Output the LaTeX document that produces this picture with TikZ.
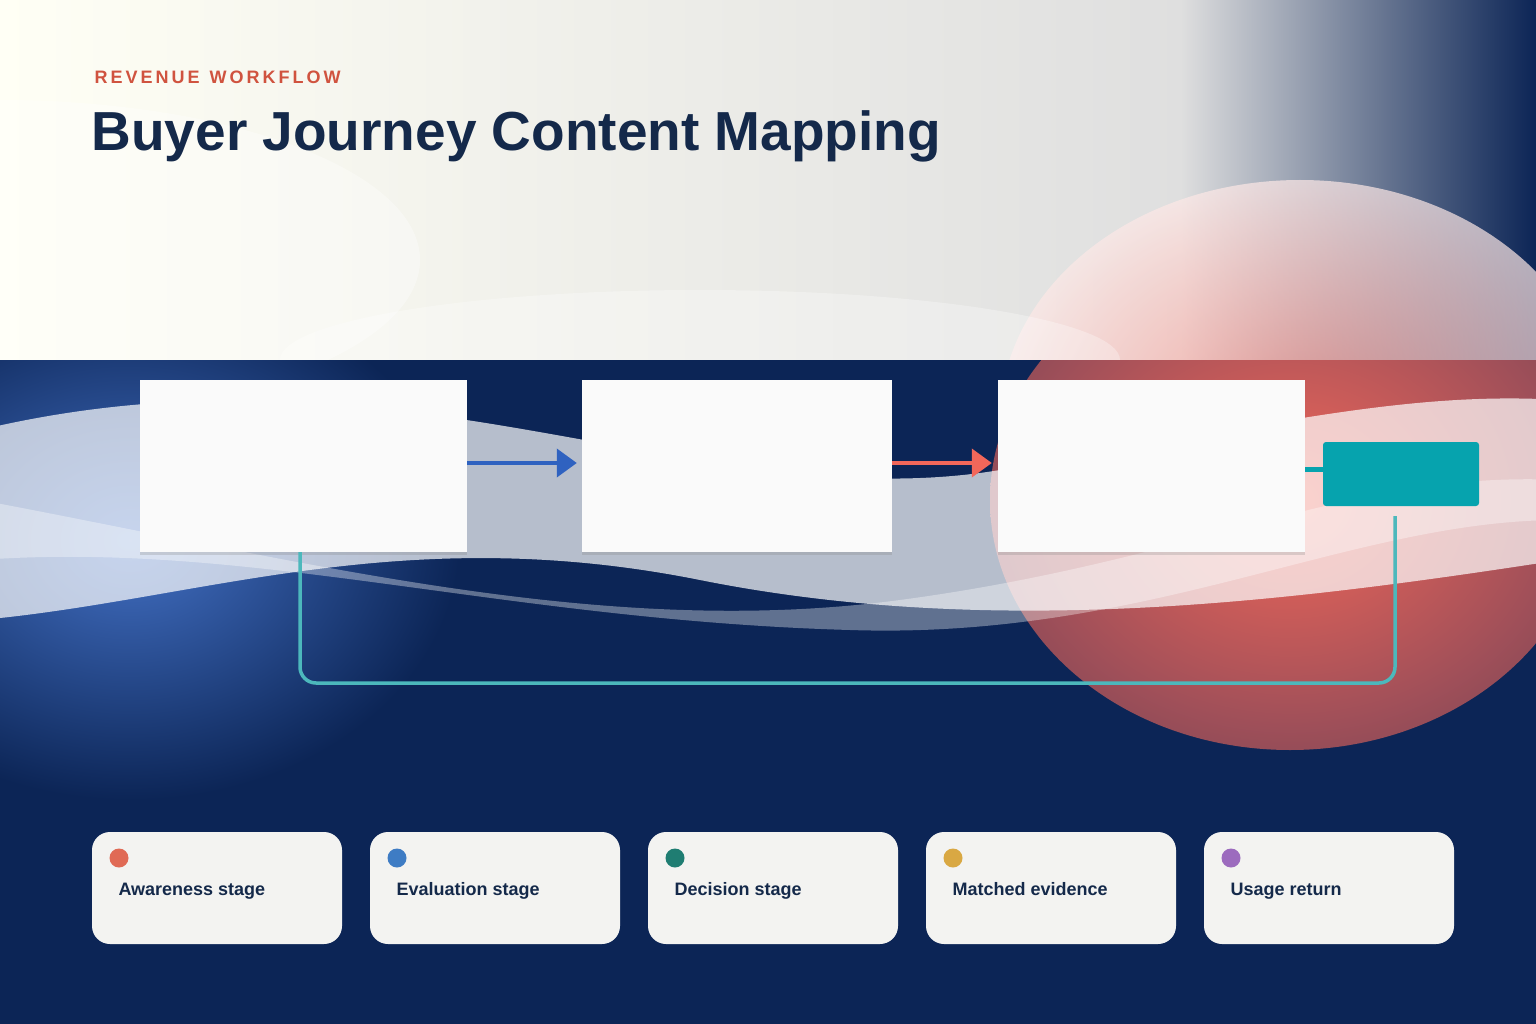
\documentclass[tikz,border=0pt]{standalone}
\usepackage{fontspec}
\setmainfont{Liberation Sans}
\usetikzlibrary{arrows.meta,shadows}
\definecolor{navy}{HTML}{0C2556}
\definecolor{ttl}{HTML}{14294A}
\definecolor{kick}{HTML}{D0533F}
\definecolor{teal}{HTML}{06A3AE}
\definecolor{tline}{HTML}{4CB8BC}
\definecolor{blu}{HTML}{2F62C0}
\definecolor{red}{HTML}{F2675A}
\definecolor{card}{HTML}{F3F3F1}
\begin{document}
\begin{tikzpicture}[x=1pt,y=-1pt,
  box/.style={draw=none,fill=white!96!gray,minimum width=#1,minimum height=172pt,inner sep=0pt,drop shadow={opacity=0.25,shadow xshift=0pt,shadow yshift=-3pt}},
  leg/.style={fill=card,rounded corners=18pt,minimum width=250pt,minimum height=112pt,inner sep=0pt},
  legt/.style={font=\bfseries\fontsize{18pt}{20pt}\selectfont,text=ttl,anchor=base west},
  dot/.style={circle,minimum size=19pt,inner sep=0pt}]
\useasboundingbox (0,0) rectangle (1536,1024);
% top background
\shade[left color=white!96!yellow, right color=gray!25] (0,0) rectangle (1180,360);
\shade[left color=gray!25, right color=navy] (1180,0) rectangle (1536,360);
\begin{scope}
\clip (0,0) rectangle (1536,360);
\shade[inner color=red!75, outer color=red!15,opacity=0.7] (1300,420) ellipse (300 and 240);
\fill[white,opacity=0.3] (700,360) ellipse (420 and 70);
\fill[white,opacity=0.35] (0,260) ellipse (420 and 160);
\end{scope}
% bottom background
\fill[navy] (0,360) rectangle (1536,1024);
\begin{scope}
\clip (0,360) rectangle (1536,1024);
\shade[inner color=blu!90, outer color=navy] (130,540) ellipse (330 and 260);
\shade[inner color=red, outer color=red!60!navy] (1290,500) ellipse (300 and 250);
\fill[white,opacity=0.7] (-20,430) .. controls (400,330) and (700,520) .. (1000,470) .. controls (1250,430) and (1400,390) .. (1560,400) -- (1560,560) .. controls (1300,600) and (1000,640) .. (700,580) .. controls (400,520) and (200,600) .. (-20,620) -- cycle;
\fill[white,opacity=0.35] (-20,500) .. controls (300,560) and (600,640) .. (900,600) .. controls (1200,560) and (1350,470) .. (1560,480) -- (1560,520) .. controls (1350,520) and (1150,640) .. (850,630) .. controls (500,620) and (250,540) .. (-20,560) -- cycle;
\end{scope}
% title
\node[anchor=west,text=kick,font=\bfseries\fontsize{18pt}{20pt}\selectfont] (kicker) at (91,77) {R\,E\,V\,E\,N\,U\,E\ \ W\,O\,R\,K\,F\,L\,O\,W};
\node[anchor=west,text=ttl,font=\bfseries\fontsize{55pt}{60pt}\selectfont,xscale=1.0] (title) at (88,136) {Buyer Journey Content Mapping};
% boxes
\node[box=327pt] (b1) at (303.5,466) {};
\node[box=310pt] (b2) at (737,466) {};
\node[box=307pt] (b3) at (1151.5,466) {};
\node[fill=teal,rounded corners=3pt,minimum width=156pt,minimum height=64pt,inner sep=0pt] (b4) at (1401,474) {};
\coordinate (r1) at (1395,516);
\draw[blu,line width=4pt,-{Triangle[length=20pt,width=28pt]},shorten >=5pt] (b1.east|-0,463) -- (b2.west|-0,463);
\draw[red,line width=4pt,-{Triangle[length=20pt,width=28pt]},shorten >=6pt] (b2.east|-0,463) -- (b3.west|-0,463);
\draw[teal,line width=5pt] (b3.east|-0,469) -- (b4.west|-0,469);
\draw[tline,line width=3.5pt,rounded corners=16pt] (r1) -- (1395,683) -- (300,683) -- (b1.south-|300,0);
% legend
\foreach \i/\t/\c in {0/Awareness stage/E06A55,1/Evaluation stage/3E7CC4,2/Decision stage/1F7D72,3/Matched evidence/D9A843,4/Usage return/9C6BBE}{
  \node[leg] (l\i) at (217+\i*278,888) {};
  \definecolor{dc}{HTML}{\c}
  \node[dot,fill=dc] (d\i) at (119+\i*278,858) {};
  \node[legt] (t\i) at (115+\i*278,895) {\t};
}
\end{tikzpicture}
\end{document}
